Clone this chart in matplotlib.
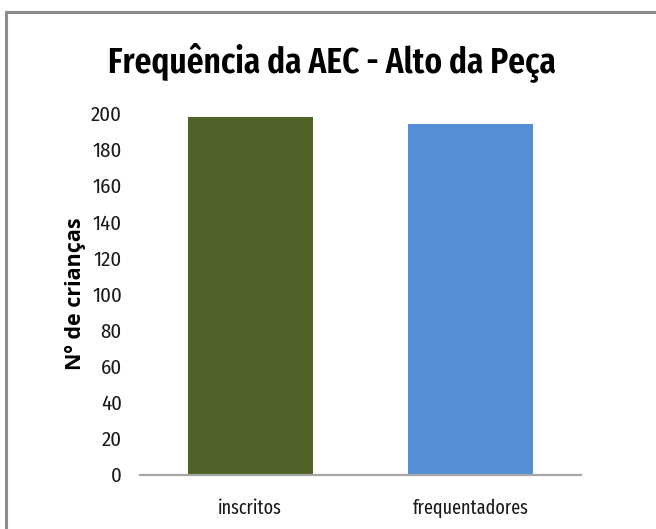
import matplotlib.pyplot as plt
from matplotlib.patches import Rectangle

categories = ['inscritos', 'frequentadores']
counts = [198, 194]
bar_colors = ['#4F6228', '#558ED5']
y_ticks = list(range(0, 201, 20))

narrow = ['Fira Sans Condensed', 'Roboto Condensed', 'Archivo Narrow', 'DejaVu Sans']
extra_narrow = ['Fira Sans Extra Condensed', 'Barlow Condensed', 'Fira Sans Condensed',
                'DejaVu Sans']

fig = plt.figure(figsize=(6.56, 5.29), dpi=100)
fig.patch.set_facecolor('white')

# chart frame, running off the right and bottom edges
frame = Rectangle((6 / 656, -0.05), 1.2, 1 - 11.5 / 529 + 0.05,
                  transform=fig.transFigure, fill=False,
                  edgecolor='#8C8C8C', linewidth=2.2, zorder=0)
fig.patches.append(frame)

ax = fig.add_axes([140 / 656, 1 - 474.5 / 529, 441 / 656, 361 / 529])

x = range(len(categories))
ax.bar(x, counts, width=0.567, color=bar_colors)

ax.set_xlim(-0.5, len(categories) - 0.5)
ax.set_ylim(0, 200)
ax.set_yticks(y_ticks)
ax.set_xticks(list(x))
ax.set_xticklabels(categories)

for s in ['top', 'right', 'left']:
    ax.spines[s].set_visible(False)
ax.spines['bottom'].set_color('#A6A6A6')
ax.spines['bottom'].set_linewidth(1.6)

ax.tick_params(axis='y', length=0, pad=13, labelsize=15, labelcolor='#1a1a1a')
ax.tick_params(axis='x', length=0, pad=17, labelsize=14.2, labelcolor='#1a1a1a')
for lab in ax.get_yticklabels():
    lab.set_family(narrow)
for lab in ax.get_xticklabels():
    lab.set_family(extra_narrow)

ax.set_ylabel('Nº de crianças', fontsize=15.5, fontweight='bold',
              family=['Open Sans', 'DejaVu Sans'])
ax.yaxis.set_label_coords(-0.122, 0.5)

fig.text(332 / 656, 1 - 62 / 529, 'Frequência da AEC - Alto da Peça',
         ha='center', va='center', fontsize=26, fontweight='semibold',
         family=extra_narrow)

fig.savefig('out.png', dpi=100)
